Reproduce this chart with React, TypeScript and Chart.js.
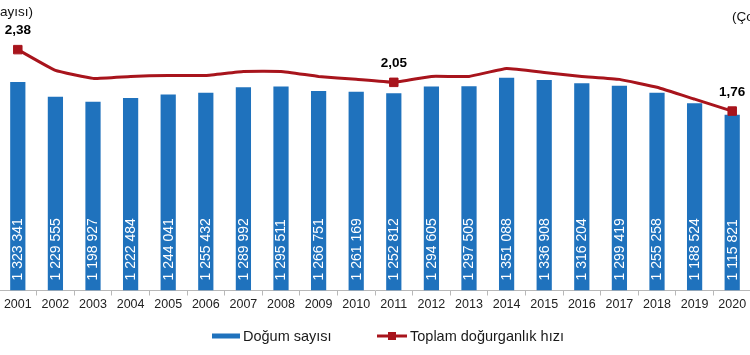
import React, { useEffect, useRef } from "react";
import { Chart, registerables } from "chart.js";

Chart.register(...registerables);

const years = [
  "2001", "2002", "2003", "2004", "2005", "2006", "2007", "2008", "2009", "2010",
  "2011", "2012", "2013", "2014", "2015", "2016", "2017", "2018", "2019", "2020",
];
const births = [
  1323341, 1229555, 1198927, 1222484, 1244041, 1255432, 1289992, 1295511, 1266751, 1261169,
  1252812, 1294605, 1297505, 1351088, 1336908, 1316204, 1299419, 1255258, 1188524, 1115821,
];
const fertility = [
  2.38, 2.17, 2.09, 2.11, 2.12, 2.12, 2.16, 2.16, 2.11, 2.08,
  2.05, 2.11, 2.11, 2.19, 2.15, 2.11, 2.08, 2.0, 1.88, 1.76,
];
const labeledYears = ["2001", "2011", "2020"];
const seriesNames = ["Doğum sayısı", "Toplam doğurganlık hızı"];
const leftTitle = "(Doğum sayısı)";
const rightTitle = "(Çocuk sayısı)";

const BAR_COLOR = "#1f72bd";
const LINE_COLOR = "#a8141c";
const FONT = "'Liberation Sans', Arial, sans-serif";

const fmtInt = (n: number) => String(n).replace(/\B(?=(\d{3})+(?!\d))/g, " ");
const fmtDec = (n: number) => n.toFixed(2).replace(".", ",");

const overlay = {
  id: "overlay",
  afterDatasetsDraw(chart: any) {
    const ctx = chart.ctx as CanvasRenderingContext2D;
    ctx.save();
    const barMeta = chart.getDatasetMeta(0);
    ctx.fillStyle = "#ffffff";
    ctx.font = `14px ${FONT}`;
    ctx.textAlign = "left";
    ctx.textBaseline = "middle";
    barMeta.data.forEach((el: any, i: number) => {
      const p = el.getProps(["x", "base"], true);
      ctx.save();
      ctx.translate(p.x + 0.5, p.base - 10);
      ctx.rotate(-Math.PI / 2);
      ctx.fillText(fmtInt(births[i]), 0, 0);
      ctx.restore();
    });
    const lineMeta = chart.getDatasetMeta(1);
    ctx.fillStyle = "#000000";
    ctx.font = `bold 13.5px ${FONT}`;
    ctx.textAlign = "center";
    labeledYears.forEach((y) => {
      const i = years.indexOf(y);
      const el = lineMeta.data[i];
      ctx.fillText(fmtDec(fertility[i]), el.x, el.y - 19);
    });
    ctx.font = `13.5px ${FONT}`;
    ctx.fillStyle = "#111111";
    ctx.textAlign = "right";
    ctx.fillText(leftTitle, 41, 12);
    ctx.textAlign = "left";
    ctx.fillText(rightTitle, 740, 17);
    const ly = 336;
    ctx.font = `14.5px ${FONT}`;
    ctx.textAlign = "left";
    const x1 = 220;
    ctx.fillStyle = BAR_COLOR;
    ctx.fillRect(x1, ly - 2.5, 28, 5);
    ctx.fillStyle = "#1a1a1a";
    ctx.fillText(seriesNames[0], x1 + 31, ly + 0.5);
    const x2 = 385;
    ctx.strokeStyle = LINE_COLOR;
    ctx.lineWidth = 3;
    ctx.beginPath();
    ctx.moveTo(x2, ly);
    ctx.lineTo(x2 + 30, ly);
    ctx.stroke();
    ctx.fillStyle = LINE_COLOR;
    ctx.fillRect(x2 + 15 - 4, ly - 4, 8, 8);
    ctx.fillStyle = "#1a1a1a";
    ctx.fillText(seriesNames[1], x2 + 33, ly + 0.5);
    ctx.restore();
  },
};

export default function App() {
  const ref = useRef<HTMLCanvasElement | null>(null);
  useEffect(() => {
    if (!ref.current) return;
    const chart = new Chart(ref.current, {
      type: "bar",
      data: {
        labels: years,
        datasets: [
          {
            type: "bar",
            label: seriesNames[0],
            data: births,
            backgroundColor: BAR_COLOR,
            borderWidth: 0,
            categoryPercentage: 1,
            barPercentage: 0.405,
            yAxisID: "y",
            order: 1,
          },
          {
            type: "line",
            label: seriesNames[1],
            data: fertility,
            borderColor: LINE_COLOR,
            backgroundColor: LINE_COLOR,
            borderWidth: 3,
            tension: 0.1,
            pointStyle: "rect",
            pointRadius: years.map((y) => (labeledYears.includes(y) ? 6 : 0)),
            pointBorderWidth: 1,
            pointBorderColor: LINE_COLOR,
            pointBackgroundColor: LINE_COLOR,
            yAxisID: "y2",
            order: 0,
          },
        ],
      },
      options: {
        responsive: false,
        animation: false,
        layout: { padding: { top: 3, bottom: 40.5, left: 0, right: 0 } },
        plugins: {
          legend: { display: false },
          tooltip: { enabled: false },
        },
        scales: {
          x: {
            offset: true,
            grid: {
              offset: true,
              drawOnChartArea: false,
              drawTicks: true,
              tickLength: 5,
              color: "#b8b8b8",
            },
            border: { display: true, color: "#b8b8b8", width: 1 },
            ticks: {
              color: "#222222",
              padding: 2,
              maxRotation: 0,
              autoSkip: false,
              font: { family: FONT, size: 12.5 },
            },
          },
          y: {
            display: false,
            min: 0,
            max: 1800000,
          },
          y2: {
            display: false,
            position: "right",
            min: -0.05,
            max: 2.81,
          },
        },
      },
      plugins: [overlay],
    });
    return () => chart.destroy();
  }, []);
  return (
    <div
      style={{
        position: "fixed",
        left: 0,
        top: 0,
        width: 750,
        height: 355,
        overflow: "hidden",
        background: "#ffffff",
      }}
    >
      <div style={{ position: "absolute", left: -8, top: 0, width: 766, height: 355 }}>
        <canvas ref={ref} width={766} height={355} style={{ display: "block" }} />
      </div>
    </div>
  );
}
